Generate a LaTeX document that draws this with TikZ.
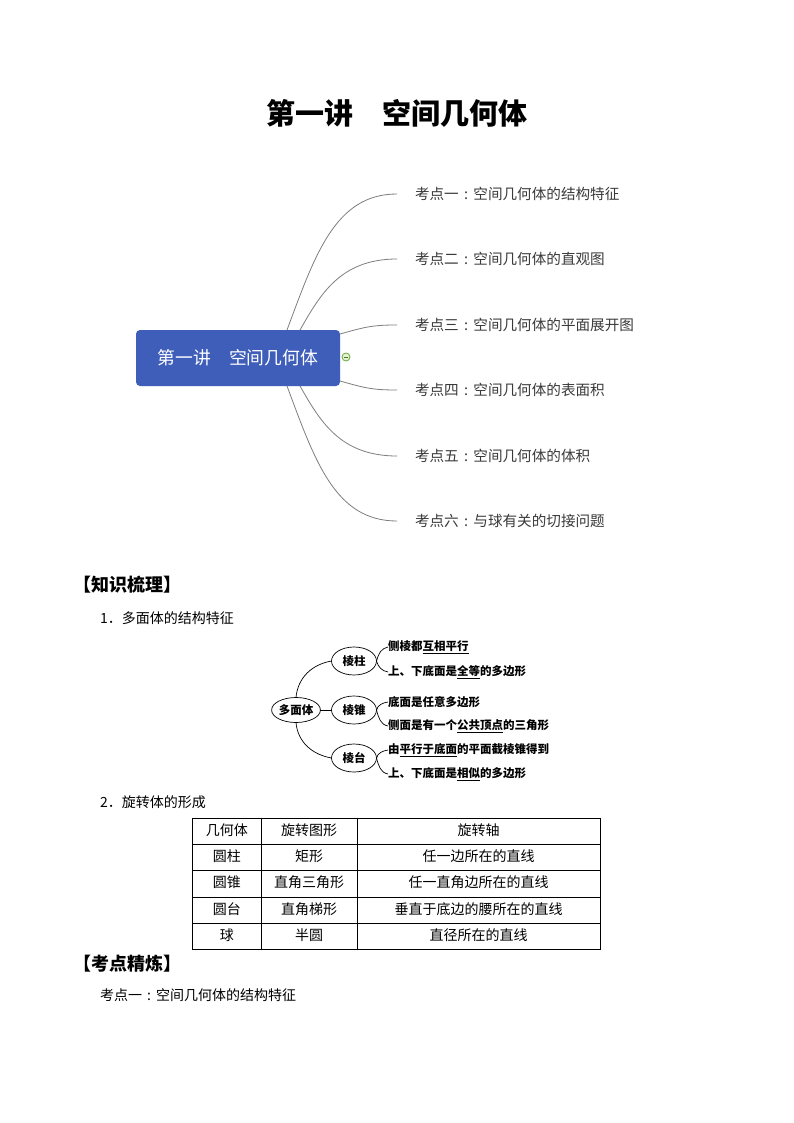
\documentclass[tikz,border=0pt]{standalone}
\usepackage{fontspec}
\setmainfont{Noto Sans CJK SC}
\usetikzlibrary{shapes.geometric}
\definecolor{boxblue}{HTML}{3F5EBA}
\definecolor{branchgray}{HTML}{7E7E7E}
\definecolor{txtgray}{HTML}{3A3A3A}
\definecolor{mmgreen}{HTML}{6AAA3A}
\definecolor{mmgreenfill}{HTML}{E4F1D6}
\newcommand\fwcolon{\makebox[1em][c]{:}}
\begin{document}
\begin{tikzpicture}[x=1pt,y=-1pt,
  every node/.style={inner sep=0pt, outer sep=0pt},
  branch/.style={draw=branchgray, line width=0.8pt},
  topic/.style={anchor=west, text=txtgray, font=\fontsize{14.6}{16}\selectfont},
  ell/.style={ellipse, draw, line width=0.7pt, minimum width=45pt, minimum height=28pt, font=\fontsize{11.5}{13}\selectfont\bfseries},
  leaf/.style={anchor=west, font=\fontsize{11.5}{13}\selectfont\bfseries},
  treeline/.style={line width=0.7pt},
  grid/.style={line width=0.8pt},
  tcell/.style={font=\fontsize{14}{16}\selectfont},
  body/.style={anchor=west, font=\fontsize{14}{16}\selectfont},
  sect/.style={anchor=west, font=\fontsize{18}{20}\selectfont\bfseries},
]
\fill[white] (0,0) rectangle (794,1123);
\useasboundingbox (0,0) rectangle (794,1123);

% title
\node[font=\fontsize{29}{32}\selectfont\bfseries] (title) at (397,113) {第一讲　空间几何体};

% mind map
\node[fill=boxblue, rounded corners=4pt, minimum width=204pt, minimum height=56pt,
      text=white, font=\fontsize{17.8}{20}\selectfont] (root) at (238,358) {第一讲　空间几何体};
\node[circle, draw=mmgreen, fill=mmgreenfill, line width=0.8pt, minimum size=8pt] (col) at (346,357) {};
\draw[mmgreen!70!black, line width=0.8pt] ([xshift=1.8pt]col.west) -- ([xshift=-1.8pt]col.east);

\node[topic] (t1) at (415,194) {考点一\fwcolon 空间几何体的结构特征};
\node[topic] (t2) at (415,259) {考点二\fwcolon 空间几何体的直观图};
\node[topic] (t3) at (415,325) {考点三\fwcolon 空间几何体的平面展开图};
\node[topic] (t4) at (415,390) {考点四\fwcolon 空间几何体的表面积};
\node[topic] (t5) at (415,456) {考点五\fwcolon 空间几何体的体积};
\node[topic] (t6) at (415,521) {考点六\fwcolon 与球有关的切接问题};

\draw[branch] ([xshift=49pt]root.north) .. controls +(28,-75) and +(-62,0) .. ([xshift=-18pt]t1.west);
\draw[branch] ([xshift=62pt]root.north) .. controls +(20,-35) and +(-57,0) .. ([xshift=-18pt]t2.west);
\draw[branch] ([yshift=-4pt]root.north east) .. controls +(25,-7) and +(-25,0) .. ([xshift=-18pt]t3.west);
\draw[branch] ([yshift=5pt]root.south east) .. controls +(25,7) and +(-25,0) .. ([xshift=-18pt]t4.west);
\draw[branch] ([xshift=62pt]root.south) .. controls +(20,35) and +(-57,0) .. ([xshift=-18pt]t5.west);
\draw[branch] ([xshift=49pt]root.south) .. controls +(28,75) and +(-62,0) .. ([xshift=-18pt]t6.west);

% section 1
\node[sect] (s1) at (73,585) {【知识梳理】};
\node[body] (i1) at (100,618) {1．多面体的结构特征};

% polyhedron tree
\node[ell, minimum width=44pt, minimum height=25pt] (dmt) at (296,710) {多面体};
\node[ell] (lz) at (354,661) {棱柱};
\node[ell] (lzh) at (354,710) {棱锥};
\node[ell] (lt) at (354,758) {棱台};

\draw[treeline] (dmt.north) to[out=85,in=190] (lz.west);
\draw[treeline] (dmt.east) -- (lzh.west);
\draw[treeline] (dmt.south) to[out=-85,in=170] (lt.west);

\node[leaf] (a1) at (388,647) {侧棱都\underline{互相平行}};
\node[leaf] (a2) at (388,672) {上、下底面是\underline{全等}的多边形};
\node[leaf] (b1) at (388,702) {底面是任意多边形};
\node[leaf] (b2) at (388,726) {侧面是有一个\underline{公共顶点}的三角形};
\node[leaf] (c1) at (388,750) {由\underline{平行于底面}的平面截棱锥得到};
\node[leaf] (c2) at (388,774) {上、下底面是\underline{相似}的多边形};

\draw[treeline] (lz.east) to[out=75,in=190] (a1.west);
\draw[treeline] (lz.east) to[out=-75,in=170] (a2.west);
\draw[treeline] (lzh.east) to[out=75,in=190] (b1.west);
\draw[treeline] (lzh.east) to[out=-75,in=170] (b2.west);
\draw[treeline] (lt.east) to[out=75,in=190] (c1.west);
\draw[treeline] (lt.east) to[out=-75,in=170] (c2.west);

% section 2 table
\node[body] (i2) at (100,802) {2．旋转体的形成};
\draw[grid] (192.5,818) rectangle (600,949);
\foreach \yy in {844,870,897,923} \draw[grid] (192.5,\yy) -- (600,\yy);
\foreach \xx in {261,357} \draw[grid] (\xx,818) -- (\xx,949);

\node[tcell] (h1) at (226.75,830) {几何体};
\node[tcell] (h2) at (309,830) {旋转图形};
\node[tcell] (h3) at (478.5,830) {旋转轴};
\node[tcell] (r11) at (226.75,856) {圆柱};
\node[tcell] (r12) at (309,856) {矩形};
\node[tcell] (r13) at (478.5,856) {任一边所在的直线};
\node[tcell] (r21) at (226.75,882) {圆锥};
\node[tcell] (r22) at (309,882) {直角三角形};
\node[tcell] (r23) at (478.5,882) {任一直角边所在的直线};
\node[tcell] (r31) at (226.75,909) {圆台};
\node[tcell] (r32) at (309,909) {直角梯形};
\node[tcell] (r33) at (478.5,909) {垂直于底边的腰所在的直线};
\node[tcell] (r41) at (226.75,935) {球};
\node[tcell] (r42) at (309,935) {半圆};
\node[tcell] (r43) at (478.5,935) {直径所在的直线};

% section 3
\node[sect] (s2) at (73,964) {【考点精炼】};
\node[body] (i3) at (100,995) {考点一\fwcolon 空间几何体的结构特征};
\end{tikzpicture}
\end{document}
